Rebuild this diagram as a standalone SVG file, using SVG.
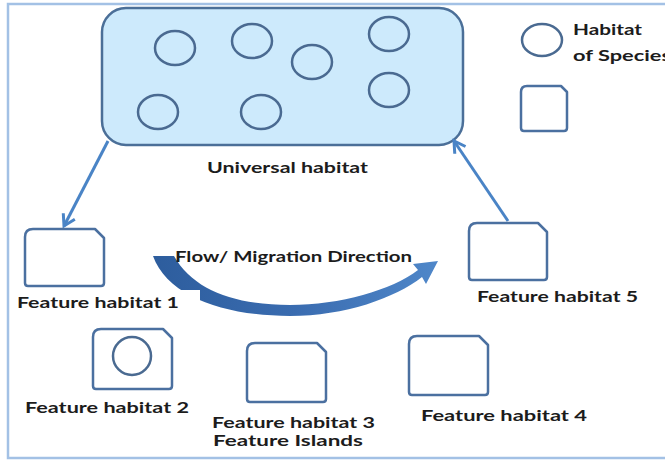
<svg xmlns="http://www.w3.org/2000/svg" width="665" height="460" viewBox="0 0 665 460">
  <style>
    .frame { fill: none; stroke: #a3c1e5; stroke-width: 2.5; }
    .habitat { fill: #cdeafc; stroke: #4b6f98; stroke-width: 2.5; }
    .species { fill: none; stroke: #4a6a91; stroke-width: 2.5; }
    .island { fill: #ffffff; stroke: #4b70a0; stroke-width: 2.5; stroke-linejoin: round; }
    .link { fill: none; stroke: #4a84c6; stroke-width: 3; }
    .label { font-family: Lato, "Open Sans", "Liberation Sans", sans-serif; font-weight: 700; font-size: 16px; fill: #1c1c1c; }
  </style>
  <defs>
    <marker id="vhead" markerUnits="userSpaceOnUse" markerWidth="20" markerHeight="20" refX="14" refY="9" orient="auto">
      <path d="M3,2.5 L14,9 L3,15.5" fill="none" stroke="#4a84c6" stroke-width="3" stroke-linejoin="miter"/>
    </marker>
    <linearGradient id="flowFill" x1="0" y1="0" x2="1" y2="0">
      <stop offset="0" stop-color="#2d5d9d"/>
      <stop offset="0.5" stop-color="#3a6cb0"/>
      <stop offset="1" stop-color="#4f87c9"/>
    </linearGradient>
  </defs>

  <!-- outer frame -->
  <rect class="frame" x="8" y="4" width="680" height="454"/>

  <!-- universal habitat with species habitats -->
  <g id="universal-habitat">
    <rect class="habitat" x="102" y="8" width="361" height="137" rx="24" ry="24"/>
    <ellipse class="species" cx="175" cy="48" rx="20" ry="17"/>
    <ellipse class="species" cx="252" cy="41" rx="20" ry="17"/>
    <ellipse class="species" cx="312" cy="62" rx="20" ry="17"/>
    <ellipse class="species" cx="389" cy="34" rx="20" ry="17"/>
    <ellipse class="species" cx="158" cy="112" rx="20" ry="17"/>
    <ellipse class="species" cx="261" cy="112" rx="20" ry="17"/>
    <ellipse class="species" cx="389" cy="90" rx="20" ry="17"/>
    <text class="label" x="207" y="173" textLength="161" lengthAdjust="spacingAndGlyphs">Universal habitat</text>
  </g>

  <!-- legend -->
  <g id="legend">
    <ellipse class="species" cx="542" cy="40" rx="20" ry="16"/>
    <text class="label" x="573" y="35" textLength="69" lengthAdjust="spacingAndGlyphs">Habitat</text>
    <text class="label" x="573" y="61" textLength="98" lengthAdjust="spacingAndGlyphs">of Species</text>
    <path class="island" d="M527,86 H561 L567,92 V128 Q567,131 564,131 H524 Q521,131 521,128 V92 Q521,86 527,86 Z"/>
  </g>

  <!-- connectors -->
  <g id="connectors">
    <line class="link" x1="108" y1="141" x2="64" y2="226" marker-end="url(#vhead)"/>
    <line class="link" x1="508" y1="221" x2="454" y2="141" marker-end="url(#vhead)"/>
    <path id="flow-arrow" fill="url(#flowFill)" d="M153,256 C168,298 228,316 290,316 C345,316 395,298 422,277 L426,284 L438,261 L413,264 L418,270 C392,290 340,305 290,305 C235,305 193,290 174,256 Z"/>
    <text class="label" x="175" y="262" textLength="237" lengthAdjust="spacingAndGlyphs">Flow/ Migration Direction</text>
  </g>

  <g id="feature-habitat-1">
    <path class="island" d="M33,229 H95 L104,238 V283 Q104,286 101,286 H28 Q25,286 25,283 V237 Q25,229 33,229 Z"/>
    <rect x="12" y="290" width="188" height="23" fill="#ffffff"/>
    <text class="label" x="17" y="308" textLength="162" lengthAdjust="spacingAndGlyphs">Feature habitat 1</text>
  </g>

  <g id="feature-habitat-5">
    <path class="island" d="M477,223 H538 L547,232 V277 Q547,280 544,280 H472 Q469,280 469,277 V231 Q469,223 477,223 Z"/>
    <text class="label" x="477" y="302" textLength="161" lengthAdjust="spacingAndGlyphs">Feature habitat 5</text>
  </g>

  <g id="feature-habitat-2">
    <path class="island" d="M101,329 H163 L172,338 V386 Q172,389 169,389 H96 Q93,389 93,386 V337 Q93,329 101,329 Z"/>
    <circle class="species" cx="132" cy="356" r="19"/>
    <text class="label" x="25" y="413" textLength="164" lengthAdjust="spacingAndGlyphs">Feature habitat 2</text>
  </g>

  <g id="feature-habitat-3">
    <path class="island" d="M255,343 H317 L326,352 V399 Q326,402 323,402 H250 Q247,402 247,399 V351 Q247,343 255,343 Z"/>
    <text class="label" x="212" y="428" textLength="163" lengthAdjust="spacingAndGlyphs">Feature habitat 3</text>
    <text class="label" x="213" y="446" textLength="150" lengthAdjust="spacingAndGlyphs">Feature Islands</text>
  </g>

  <g id="feature-habitat-4">
    <path class="island" d="M417,336 H479 L488,345 V392 Q488,395 485,395 H412 Q409,395 409,392 V344 Q409,336 417,336 Z"/>
    <text class="label" x="421" y="421" textLength="166" lengthAdjust="spacingAndGlyphs">Feature habitat 4</text>
  </g>
</svg>
